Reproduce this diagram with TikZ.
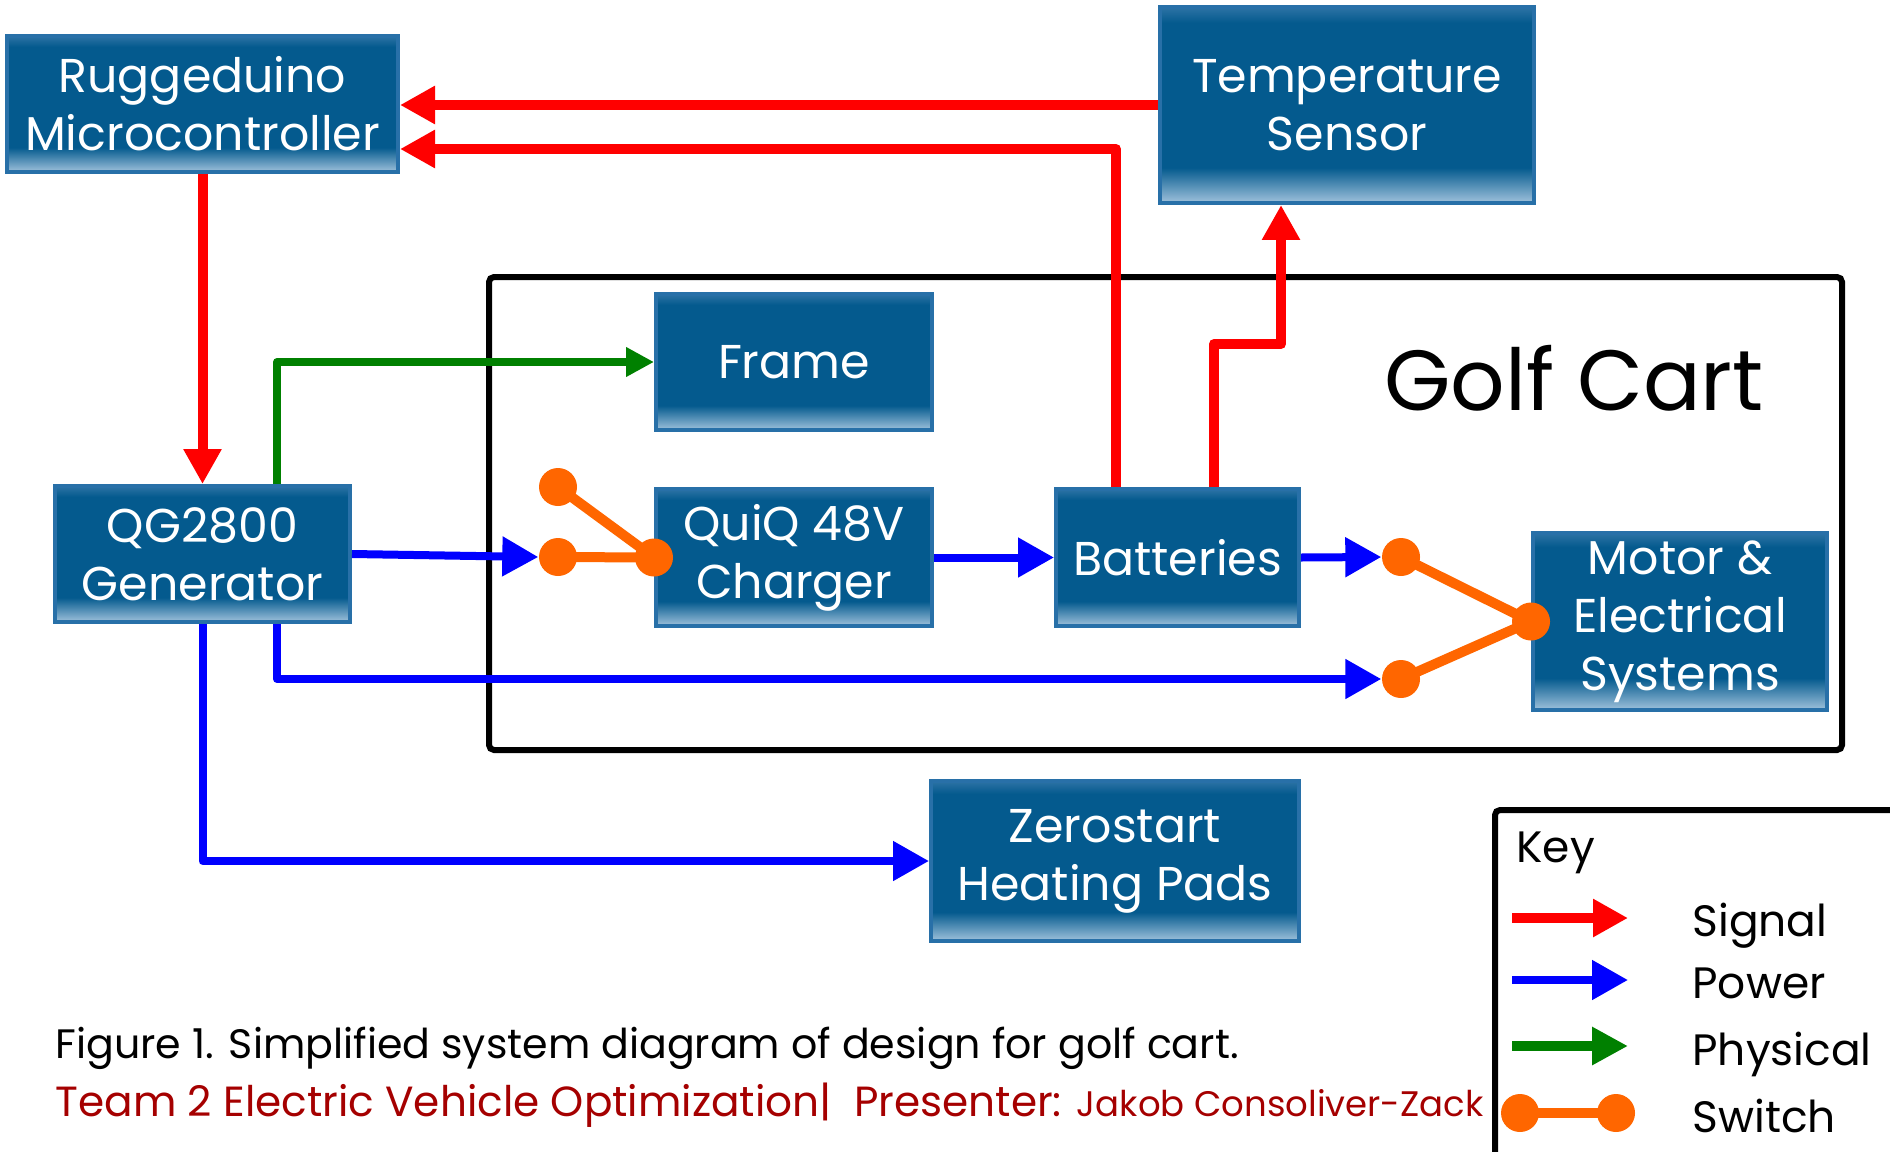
\documentclass[tikz,border=0pt]{standalone}
\usepackage{fontspec}
\setmainfont{Poppins}
\usetikzlibrary{arrows.meta}

\definecolor{boxblue}{RGB}{4,90,142}
\definecolor{boxedge}{RGB}{40,112,168}
\definecolor{glowlight}{RGB}{160,194,220}
\definecolor{glowtop}{RGB}{45,115,165}
\definecolor{signalred}{RGB}{255,0,0}
\definecolor{powerblue}{RGB}{0,0,255}
\definecolor{physgreen}{RGB}{0,128,0}
\definecolor{switchorange}{RGB}{255,102,0}
\definecolor{captionred}{RGB}{165,0,0}

\pgfdeclareverticalshading{blockglow}{100bp}{color(0bp)=(glowlight); color(25bp)=(glowlight); color(34bp)=(boxblue); color(71bp)=(boxblue); color(75bp)=(glowtop); color(100bp)=(glowtop)}

\begin{document}
\begin{tikzpicture}[x=0.1mm, y=-0.1mm,
    block/.style={draw=boxedge, line width=0.4mm, shade, shading=blockglow, text=white, align=center, inner sep=0pt, minimum height=13.6mm, font=\fontsize{13.5}{16.5}\selectfont},
    signal_arrow/.style={-{Triangle[length=3.5mm, width=3.6mm]}, line width=1mm, signalred, line join=round},
    power_arrow/.style={-{Triangle[length=3.6mm, width=3.8mm]}, line width=0.8mm, powerblue, line join=round},
    physical_arrow/.style={-{Triangle[length=2.8mm, width=2.8mm]}, line width=0.8mm, physgreen, line join=round},
    switch_dot/.style={circle, fill=switchorange, inner sep=0pt, minimum size=3.8mm},
    switch_line/.style={line width=1mm, switchorange, line join=round},
    frame_box/.style={line width=0.6mm, rounded corners=0.5mm},
    key_text/.style={anchor=base west, font=\fontsize{12.5}{15}\selectfont}
]
\useasboundingbox (0,0) rectangle (1890,1151);
\clip (0,0) rectangle (1890,1151);

% Controller and sensor (top row)
\node[block, minimum width=39.1mm] (ruggeduino) at (202.5,104) {Ruggeduino\\Microcontroller};
\node[block, minimum width=37.4mm, minimum height=19.6mm] (tempSensor) at (1347,105) {Temperature\\Sensor};

% Golf cart outline
\draw[frame_box] (489,277) rectangle (1842,750);
\node[anchor=base, font=\fontsize{24.3}{28}\selectfont] (golfCartLabel) at (1574,410) {Golf Cart};

% Blocks
\node[block, minimum width=27.6mm] (frameBox) at (794,362) {Frame};
\node[block, minimum width=29.5mm] (generator) at (202.5,554) {QG2800\\Generator};
\node[block, minimum width=27.6mm, minimum height=13.7mm] (charger) at (794,557.5) {QuiQ 48V\\Charger};
\node[block, minimum width=24.3mm, minimum height=13.7mm] (batteries) at (1177.5,557.5) {Batteries};
\node[block, minimum width=29.4mm, minimum height=17.7mm] (motor) at (1680,621.5) {Motor \&\\Electrical\\Systems};
\node[block, minimum width=36.8mm, minimum height=16mm] (heatPads) at (1115,861) {Zerostart\\Heating Pads};

% Switch contacts
\node[switch_dot] (chargerTop) at (558,487) {};
\node[switch_dot] (chargerIn) at (558,557) {};
\node[switch_dot] (chargerPivot) at (charger.west) {};
\node[switch_dot] (motorTop) at (1401,557) {};
\node[switch_dot] (motorBottom) at (1401,679) {};
\node[switch_dot] (motorPivot) at (motor.west) {};

% Signal lines
\draw[signal_arrow] (tempSensor.west) -- (tempSensor.west -| ruggeduino.east);
\draw[signal_arrow] ([xshift=-6.15mm]batteries.north) |- ([yshift=-4.5mm]ruggeduino.east);
\draw[signal_arrow] ([xshift=3.65mm]batteries.north) -- ++(0,-143) -| ([xshift=-6.6mm]tempSensor.south);
\draw[signal_arrow] (ruggeduino.south) -- (generator.north);

% Physical link
\draw[physical_arrow] ([xshift=7.45mm]generator.north) |- (frameBox.west);

% Power lines
\draw[power_arrow] (generator.east) -- (chargerIn.west);
\draw[power_arrow] (charger.east) -- (batteries.west);
\draw[power_arrow] (batteries.east) -- (motorTop.west);
\draw[power_arrow] ([xshift=7.45mm]generator.south) |- (motorBottom.west);
\draw[power_arrow] (generator.south) |- (heatPads.west);

% Switches
\draw[switch_line] (chargerTop.center) -- (chargerPivot.center) -- (chargerIn.center);
\draw[switch_line] (motorTop.center) -- (motorPivot.center) -- (motorBottom.center);

% Key (runs off the page edge)
\draw[frame_box] (1495,810) rectangle (1960,1220);
\node[key_text] (keyTitle) at (1504,862) {Key};
\coordinate (signalStart) at (1512,918);
\coordinate (signalEnd) at (1628,918);
\coordinate (powerStart) at (1512,980);
\coordinate (powerEnd) at (1628,980);
\coordinate (physicalStart) at (1512,1046);
\coordinate (physicalEnd) at (1628,1046);
\draw[signal_arrow] (signalStart) -- (signalEnd);
\draw[power_arrow] (powerStart) -- (powerEnd);
\draw[physical_arrow, line width=1mm, -{Triangle[length=3.6mm, width=3.6mm]}] (physicalStart) -- (physicalEnd);
\node[switch_dot] (keyDotA) at (1520,1113) {};
\node[switch_dot] (keyDotB) at (1616,1113) {};
\draw[switch_line] (keyDotA.center) -- (keyDotB.center);
\node[key_text] (signalLabel) at (1680,936) {Signal};
\node[key_text] (powerLabel) at (1680,998) {Power};
\node[key_text] (physicalLabel) at (1680,1065) {Physical};
\node[key_text] (switchLabel) at (1680,1132) {Switch};

% Caption
\node[anchor=base west, inner sep=0pt, font=\fontsize{11.7}{14}\selectfont] (caption) at (55,1058) {Figure 1. Simplified system diagram of design for golf cart.};
\node[anchor=base west, inner sep=0pt, text=captionred, font=\fontsize{12}{14}\selectfont] (presenter) at (55,1116) {Team 2 Electric Vehicle Optimization|\ \ Presenter: {\fontsize{10.1}{12}\selectfont Jakob Consoliver-Zack}};
\end{tikzpicture}
\end{document}
